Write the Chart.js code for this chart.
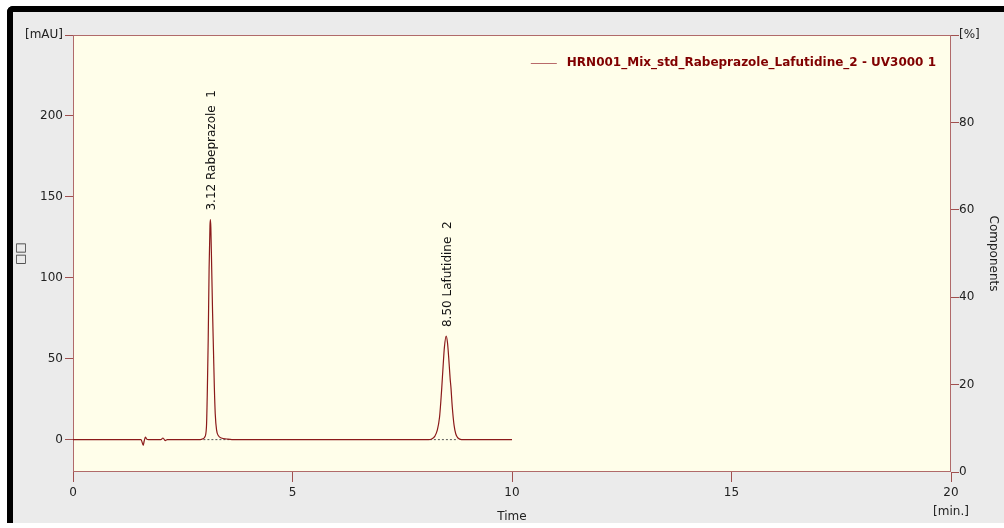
<!DOCTYPE html>
<html lang="en">
<head>
<meta charset="UTF-8">
<title>HRN001 chromatogram</title>
<style>
  body { margin: 0; background: #fff; }
  #frame {
    position: absolute; left: 7px; top: 6px;
    width: 991px; height: 511px;
    border-left: 6px solid #000; border-top: 6px solid #000;
    border-top-left-radius: 6px;
    background: #ebebeb;
  }
  .chartBox { position: absolute; left: 0; top: 0; width: 1004px; height: 528px; }
</style>
<script src="https://cdn.jsdelivr.net/npm/chart.js"></script>
</head>
<body>
<div id="frame"></div>
<div class="chartBox"><canvas id="myChart"></canvas></div>
<script>
// trace (time in min, signal in mAU)
const timeMin = [0, 1.55, 1.60, 1.62, 1.65, 1.68, 1.72, 2.00, 2.05, 2.10, 2.15,
  2.90, 2.96, 3.00, 3.04, 3.06, 3.08, 3.10, 3.12, 3.13, 3.14, 3.16, 3.18, 3.20, 3.22, 3.24, 3.27, 3.31, 3.38, 3.50, 3.62,
  8.10, 8.18, 8.24, 8.30, 8.35, 8.38, 8.40, 8.43, 8.46, 8.50, 8.53, 8.56, 8.59, 8.61, 8.64, 8.68, 8.72, 8.77, 8.85, 10];
const signalMAU = [0, 0, -3.5, -1, 1.5, 0.3, 0, 0, 1, -0.6, 0,
  0, 0.5, 1.5, 8, 30, 62, 105, 132, 136, 131, 105, 78, 55, 32, 16, 6, 2.5, 1, 0.4, 0,
  0, 0.6, 2, 6, 14, 24, 32, 45, 57, 64, 60, 50, 38, 32, 20, 9, 3.5, 1, 0, 0];

// integrated peaks
const peakTimes = [3.12, 8.50];
const peakHeights = [136, 64];
const peakNames = ['Rabeprazole', 'Lafutidine'];
const peakStart = [2.97, 8.13];
const peakEnd = [3.58, 8.77];

// axis ticks
const xTicks = [0, 5, 10, 15, 20];
const yTicks = [0, 50, 100, 150, 200, 250];
const y2Ticks = [0, 20, 40, 60, 80, 100];

const traceName = 'HRN001_Mix_std_Rabeprazole_Lafutidine_2 - UV3000 1';
const FONT = 'DejaVu Sans';
const tickColor = '#a0504f';

Chart.defaults.font.family = FONT;
Chart.defaults.font.size = 12;
Chart.defaults.color = '#222';

const traceData = timeMin.map((t, i) => ({ x: t, y: signalMAU[i] }));
const baselineSets = peakStart.map((s, i) => ({
  label: 'baseline ' + (i + 1),
  data: [{ x: s, y: 0 }, { x: peakEnd[i], y: 0 }],
  borderColor: '#555',
  borderWidth: 1,
  borderDash: [2, 2],
  pointRadius: 0
}));

const plotBack = {
  id: 'plotBack',
  beforeDraw(chart) {
    const a = chart.chartArea, ctx = chart.ctx;
    ctx.save();
    ctx.fillStyle = '#fffeea';
    ctx.fillRect(a.left, a.top, a.right - a.left, a.bottom - a.top);
    ctx.strokeStyle = '#b06a6a';
    ctx.lineWidth = 1;
    ctx.strokeRect(a.left + 0.5, a.top + 0.5, a.right - a.left - 1, a.bottom - a.top - 1);
    ctx.restore();
  }
};

// legend in the top right corner of the plot, text right-aligned 15px from the edge
const traceLegend = {
  id: 'traceLegend',
  afterDatasetsDraw(chart) {
    const a = chart.chartArea, ctx = chart.ctx;
    const ds = chart.data.datasets[0];
    ctx.save();
    ctx.font = 'bold 12px ' + FONT;
    const w = ctx.measureText(ds.label).width;
    const tx = a.right - 15 - w, ty = a.top + 28;
    ctx.strokeStyle = '#b86a6a';
    ctx.lineWidth = 1;
    ctx.beginPath();
    ctx.moveTo(tx - 36, ty + 0.5);
    ctx.lineTo(tx - 10, ty + 0.5);
    ctx.stroke();
    ctx.fillStyle = '#800000';
    ctx.textBaseline = 'middle';
    ctx.fillText(ds.label, tx, ty);
    ctx.restore();
  }
};

const peakLabels = {
  id: 'peakLabels',
  afterDatasetsDraw(chart) {
    const ctx = chart.ctx, xs = chart.scales.x, ys = chart.scales.y;
    ctx.save();
    ctx.font = '12px ' + FONT;
    ctx.fillStyle = '#111';
    ctx.textAlign = 'left';
    ctx.textBaseline = 'middle';
    peakTimes.forEach((t, i) => {
      const px = xs.getPixelForValue(t) + 2;
      const py = ys.getPixelForValue(peakHeights[i]) - 9;
      ctx.save();
      ctx.translate(px, py);
      ctx.rotate(-Math.PI / 2);
      ctx.fillText(t.toFixed(2) + ' ' + peakNames[i] + '  ' + (i + 1), 0, 0);
      ctx.restore();
    });
    ctx.restore();
  }
};

const config = {
  type: 'line',
  data: {
    datasets: [{
      label: traceName,
      data: traceData,
      borderColor: '#8b1a1a',
      borderWidth: 1.2,
      pointRadius: 0,
      cubicInterpolationMode: 'monotone'
    }, ...baselineSets]
  },
  options: {
    responsive: true,
    maintainAspectRatio: false,
    animation: false,
    layout: { padding: { top: 35 } },
    plugins: {
      tooltip: { enabled: false },
      legend: { display: false }
    },
    scales: {
      x: {
        type: 'linear',
        min: 0, max: 20,
        afterBuildTicks: s => { s.ticks = xTicks.map(v => ({ value: v })); },
        afterFit: s => { s.height = 56; },
        border: { display: false },
        grid: { drawOnChartArea: false, tickLength: 10, color: tickColor },
        ticks: {
          padding: 2,
          maxRotation: 0,
          font: { lineHeight: 1.55 },
          callback: v => v === 20 ? ['20', '[min.]'] : String(v)
        },
        title: { display: true, text: 'Time', padding: { top: 0, bottom: 4 } }
      },
      y: {
        position: 'left',
        min: -20, max: 250,
        afterBuildTicks: s => { s.ticks = yTicks.map(v => ({ value: v })); },
        afterFit: s => { s.width = 73; },
        border: { display: false },
        grid: { drawOnChartArea: false, tickLength: 8, color: tickColor },
        ticks: { padding: 2, callback: v => v === 250 ? '[mAU]' : String(v) },
        title: { display: true, text: '□□', padding: { top: 14, bottom: 0 } }
      },
      y2: {
        position: 'right',
        min: 0, max: 100,
        afterBuildTicks: s => { s.ticks = y2Ticks.map(v => ({ value: v })); },
        afterFit: s => { s.width = 53; },
        border: { display: false },
        grid: { drawOnChartArea: false, tickLength: 8, color: tickColor },
        ticks: { padding: 0, callback: v => v === 100 ? '[%]' : String(v) },
        title: { display: true, text: 'Components', padding: { top: 4, bottom: 0 } }
      }
    }
  },
  plugins: [plotBack, traceLegend, peakLabels]
};

const myChart = new Chart(document.getElementById('myChart'), config);
</script>
</body>
</html>
